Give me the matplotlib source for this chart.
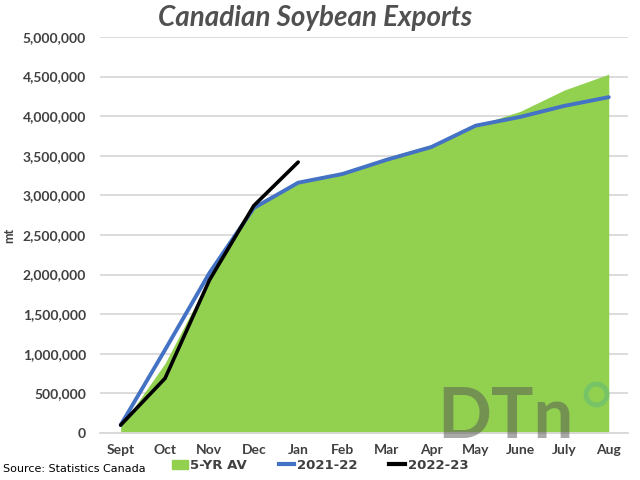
import matplotlib
matplotlib.use('Agg')
import matplotlib.pyplot as plt
from matplotlib.lines import Line2D
from matplotlib.patches import Patch
from matplotlib.ticker import FuncFormatter

months = ['Sept', 'Oct', 'Nov', 'Dec', 'Jan', 'Feb', 'Mar', 'Apr', 'May', 'June', 'July', 'Aug']
avg_5yr = [80000, 880000, 1950000, 2840000, 3150000, 3290000, 3480000, 3640000, 3880000, 4060000, 4330000, 4530000]
y2021_22 = [100000, 1050000, 2020000, 2840000, 3160000, 3270000, 3450000, 3610000, 3880000, 3990000, 4130000, 4240000]
y2022_23 = [100000, 690000, 1930000, 2870000, 3420000]

green = '#92D050'
blue = '#4472C4'
txt = '#404040'

fig = plt.figure(figsize=(6.4, 4.8), dpi=100)
ax = fig.add_axes([0.156, 0.098, 0.825, 0.825])

x = list(range(len(months)))
ax.fill_between(x, avg_5yr, 0, color=green, lw=0, zorder=2)
ax.plot(x, y2021_22, color=blue, lw=2.8, solid_capstyle='round', zorder=3)
ax.plot(range(len(y2022_23)), y2022_23, color='black', lw=2.6, solid_capstyle='round', zorder=4)

ax.set_xlim(-0.47, 11.43)
ax.set_ylim(0, 5000000)
ax.set_yticks(range(0, 5000001, 500000))
ax.yaxis.set_major_formatter(FuncFormatter(lambda v, p: f'{int(v):,}'))
ax.set_xticks(x)
ax.set_xticklabels(months)
ax.grid(axis='y', color='#d9d9d9', lw=1.3, zorder=0)
ax.set_axisbelow(True)
for s in ['top', 'right', 'left']:
    ax.spines[s].set_visible(False)
ax.spines['bottom'].set_color('#d9d9d9')
ax.spines['bottom'].set_linewidth(1.3)
ax.tick_params(length=0, labelsize=10, labelcolor=txt)
for lab in ax.get_xticklabels() + ax.get_yticklabels():
    lab.set_fontweight('bold')
    lab.set_family('Lato')
ax.tick_params(axis='y', pad=10)
ax.tick_params(axis='x', pad=8)
ax.set_ylabel('mt', fontsize=9, fontweight='bold', color=txt, family='Lato', labelpad=5)

fig.text(0.492, 0.962, 'Canadian Soybean Exports', ha='center', va='center', fontsize=20,
         fontweight='bold', fontstyle='italic', color='#505050', family='Lato')

# DTN watermark
fig.text(0.789, 0.131, 'DTn', ha='center', va='center', fontsize=51, fontweight='bold',
         color='#555555', alpha=0.5, family='Lato', zorder=5)
ax.plot([0.931], [0.179], marker='o', ms=15, mfc='none', mec='#6cc070', mew=3.6, alpha=0.7,
        transform=fig.transFigure, clip_on=False, zorder=6)

fig.text(0.005, 0.022, 'Source: Statistics Canada', fontsize=8, color='black', va='center')
handles = [Patch(color=green), Line2D([], [], color=blue, lw=3), Line2D([], [], color='black', lw=3)]
leg = fig.legend(handles, ['5-YR AV', '2021-22', '2022-23'], loc='center', bbox_to_anchor=(0.5, 0.03),
                 ncol=3, frameon=False, fontsize=9.5, handlelength=1.2, handletextpad=0.2,
                 columnspacing=2.4)
for t in leg.get_texts():
    t.set_color(txt)
    t.set_fontweight('bold')

fig.savefig('out.png', dpi=100)
